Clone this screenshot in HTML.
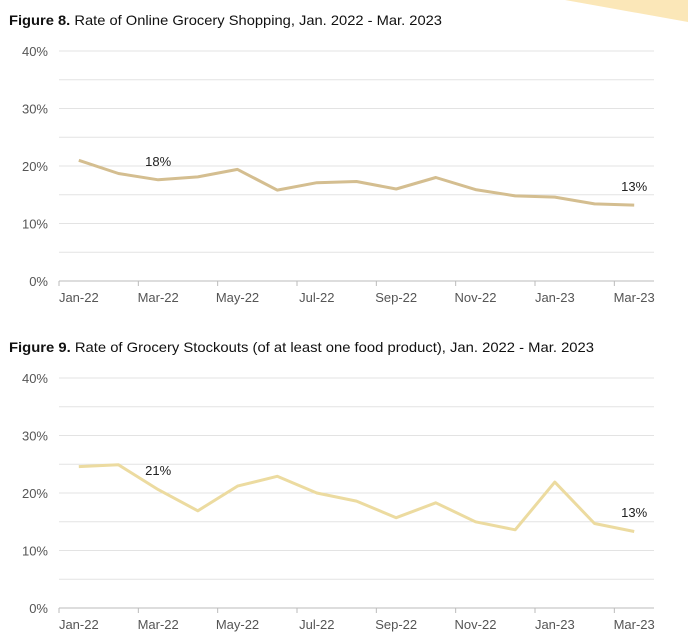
<!DOCTYPE html>
<html><head><meta charset="utf-8"><style>
html,body{margin:0;padding:0;background:#fff;}
svg{display:block;font-family:"Liberation Sans",Arial,sans-serif;}
</style></head><body>
<svg id="svg" width="688" height="643" viewBox="0 0 688 643">
<polygon points="565,0 688,0 688,22" fill="#fbe7b8"/>
<text x="9" y="25" font-size="14" textLength="433" lengthAdjust="spacingAndGlyphs" fill="#111"><tspan font-weight="bold">Figure 8.</tspan> Rate of Online Grocery Shopping, Jan. 2022 - Mar. 2023</text>
<text x="9" y="352" font-size="14" textLength="585" lengthAdjust="spacingAndGlyphs" fill="#111"><tspan font-weight="bold">Figure 9.</tspan> Rate of Grocery Stockouts (of at least one food product), Jan. 2022 - Mar. 2023</text>
</svg>
<script>
const categories=["Jan-22","Feb-22","Mar-22","Apr-22","May-22","Jun-22","Jul-22","Aug-22","Sep-22","Oct-22","Nov-22","Dec-22","Jan-23","Feb-23","Mar-23"];
const onlineValues=[21.0,18.7,17.6,18.1,19.4,15.8,17.1,17.3,16.0,18.0,15.9,14.8,14.6,13.4,13.2];
const stockoutValues=[24.6,24.9,20.6,16.9,21.2,22.9,20.0,18.6,15.7,18.3,15.0,13.6,21.9,14.7,13.3];
const yTicks=[0,10,20,30,40];
const tickLabels=["Jan-22","Mar-22","May-22","Jul-22","Sep-22","Nov-22","Jan-23","Mar-23"];
const onlineAnnotations=[{i:2,text:"18%"},{i:14,text:"13%"}];
const stockoutAnnotations=[{i:2,text:"21%"},{i:14,text:"13%"}];

const NS="http://www.w3.org/2000/svg";
const svg=document.getElementById('svg');
function mk(tag,attrs,parent){const e=document.createElementNS(NS,tag);for(const k in attrs)e.setAttribute(k,attrs[k]);(parent||svg).appendChild(e);return e;}

function chart(name,top,bottom,values,color,annots,annotY){
  const x0=59,x1=654,band=(x1-x0)/categories.length;
  const y=v=>bottom-(v/40)*(bottom-top);
  const x=i=>x0+band*(i+0.5);
  const g=mk('g',{});
  
  
  for(let v=5;v<=40;v+=5){
    const l=mk('line',{x1:x0,x2:x1,y1:y(v),y2:y(v),stroke:'#e3e3e3','stroke-width':1},g);
    
    
  }
  yTicks.forEach(v=>{
    const t=mk('text',{x:48,y:y(v)+5,'text-anchor':'end','font-size':13,fill:'#555'},g);
    t.textContent=v+'%';
    
    
  });
  const ax=mk('line',{x1:x0,x2:x1,y1:bottom,y2:bottom,stroke:'#bbb','stroke-width':1},g);
  
  
  for(let i=0;i<=categories.length;i+=2){
    const tk=mk('line',{x1:x0+band*i,x2:x0+band*i,y1:bottom,y2:bottom+5,stroke:'#bbb'},g);
    
    
  }
  tickLabels.forEach(lab=>{
    const i=categories.indexOf(lab);
    const t=mk('text',{x:x(i),y:bottom+21,'text-anchor':'middle','font-size':13,fill:'#555'},g);
    t.textContent=lab;
    
    
  });
  const pts=values.map((v,i)=>x(i).toFixed(1)+','+y(v).toFixed(1)).join(' ');
  const pl=mk('polyline',{points:pts,fill:'none',stroke:color,'stroke-width':3,'stroke-linejoin':'round'},g);
  
  
  annots.forEach((a,k)=>{
    const t=mk('text',{x:x(a.i),y:annotY[k],'text-anchor':'middle','font-size':13,fill:'#222'},g);
    t.textContent=a.text;
    
    
  });
}
chart('online-shopping-chart',51,281,onlineValues,'#d4be90',onlineAnnotations,[166,191]);
chart('stockouts-chart',378,608,stockoutValues,'#ecdba0',stockoutAnnotations,[475,517]);
</script>
</body></html>
